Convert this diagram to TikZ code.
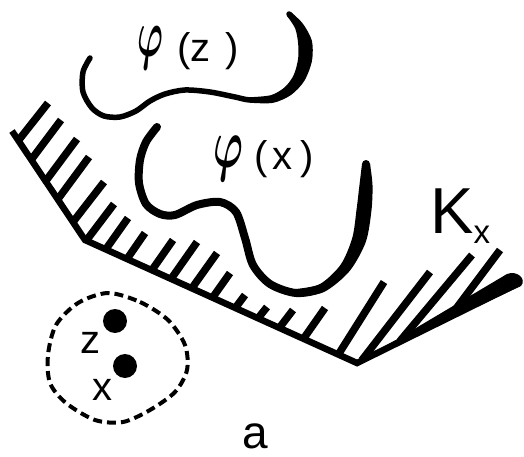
\documentclass[tikz,border=0pt]{standalone}
\usepackage{fontspec}
\setmainfont{Liberation Sans}
\usepackage{graphicx}

\begin{document}
\begin{tikzpicture}[x=1pt, y=-1pt,
    rim/.style={line width=6.5pt, line join=miter},
    hatchline/.style={line width=7.5pt},
    curve/.style={line width=#1, line cap=round, line join=round},
    nbhd/.style={line width=4pt, dash pattern=on 9pt off 5pt},
    pt/.style={circle, fill, inner sep=0pt, minimum size=24pt},
    lbl/.style={inner sep=0pt, font=\fontsize{40}{40}\selectfont}]
    \useasboundingbox (0,0) rectangle (524,457);

    \coordinate (k1) at (12,131);
    \coordinate (k2) at (85,240);
    \coordinate (k3) at (357,363);
    \coordinate (k4) at (519,283);
    \draw[rim] (k1) -- (k2) -- (k3) -- (k4);
    \fill (k3) -- (507,274) .. controls (517,270) and (527,279) .. (521,286) -- cycle;

    \foreach \ax/\ay/\bx/\by in {18/141/48/103, 31/160/61/120, 45/182/77/139,
        58/199/89/157, 73/222/104/182, 86/241/114/204, 106/249/128/218,
        127/259/145/233, 152/270/173/240, 171/279/197/242, 192/288/217/253,
        213/297/230/273, 236/307/245/295, 259/317/267/307, 280/327/293/310,
        304/338/325/308, 338/355/384/282, 362/360/430/272, 400/341/472/255,
        452/314/500/250}
        \draw[hatchline] (\ax,\ay) -- (\bx,\by);

    \draw[curve=5.5pt] plot[smooth] coordinates {(90,58) (83,72) (83,92) (92,108)
        (104,116) (120,117) (136,111) (150,101) (165,94) (185,90) (210,92)
        (235,97) (250,100) (272,99) (288,91) (299,78) (305,60) (305,42) (299,26) (289,14)};
    \fill plot[smooth] coordinates {(250,102.75) (272.8,102.9) (291,95) (304.3,80.9)
        (311.9,61.1) (311.9,40.8) (302.9,23.75) (291.1,12.2)}
        -- plot[smooth] coordinates {(286.9,15.8) (295.1,28.25) (298.1,43.2)
        (298.1,58.9) (293.7,75.1) (285,87) (271.2,95.1) (250,97.25)} -- cycle;

    \draw[curve=8pt] plot[smooth] coordinates {(157,127) (146,142) (140,160)
        (139,183) (146,204) (160,214) (175,215) (197,205) (220,202) (236,212)
        (245,238) (253,265) (270,284) (296,293) (322,288) (345,268) (359,240)
        (364,210) (366,185) (366,164)};
    \fill plot[smooth] coordinates {(296.4,297) (324,292) (349.3,271.4) (365.7,242.2)
        (371.4,210.9) (372.5,185.3) (370,164)}
        -- plot[smooth] coordinates {(362,164) (359.5,184.7) (356.6,209.1)
        (352.3,237.8) (340.7,264.6) (320,284) (295.6,289)} -- cycle;

    \draw[nbhd] plot[smooth cycle] coordinates {(108,293) (140,302) (168,320)
        (185,345) (187,370) (175,392) (150,410) (123,422) (95,420) (66,403)
        (50,383) (48,355) (56,325) (78,303)};

    \node[pt] (z) at (115,321) {};
    \node[pt] (x) at (125,366) {};
    \node[lbl, anchor=base] (lz) at (90,353) {z};
    \node[lbl, anchor=base] (lx) at (102,400) {x};

    \node[lbl, anchor=base west] (phiz) at (137,62)
        {\raisebox{5pt}{\resizebox*{26pt}{43pt}{\boldmath$\varphi$}}\hspace{14pt}(z\hspace{15pt})};
    \node[lbl, anchor=base west] (phix) at (213,170)
        {\raisebox{2pt}{\resizebox*{30pt}{45pt}{\boldmath$\varphi$}}\hspace{11pt}(\hspace{5pt}x\hspace{8pt})};
    \node[inner sep=0pt, anchor=base west, font=\fontsize{65}{65}\selectfont] (kx) at (430,233)
        {K\raisebox{-10pt}{\fontsize{33}{33}\selectfont x}};
    \node[inner sep=0pt, anchor=base, font=\fontsize{46}{46}\selectfont] (cap) at (255,448) {a};
\end{tikzpicture}
\end{document}
